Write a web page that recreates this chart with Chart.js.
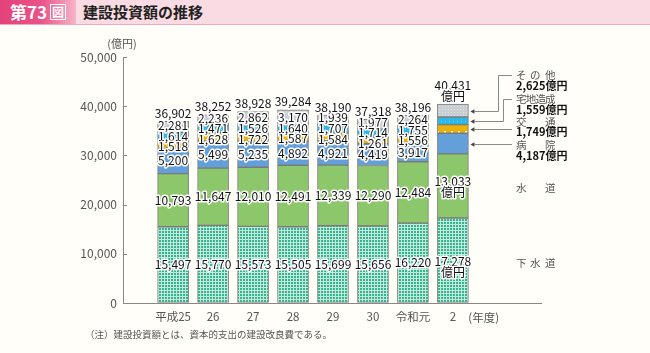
<!DOCTYPE html>
<html><head><meta charset="utf-8">
<script src="https://cdn.jsdelivr.net/npm/chart.js@4"></script>
<style>
html,body{margin:0;padding:0;background:#fffef8;width:650px;height:353px;overflow:hidden;font-family:"Noto Sans CJK JP",sans-serif;}
#wrap{position:relative;width:650px;height:353px;}
#c{position:absolute;left:0;top:0;}
#band{position:absolute;left:0;top:0;width:650px;height:24px;background:#fbdbe3;border-bottom:1px solid #f3a9c0;}
#num{position:absolute;left:0;top:0;width:76px;height:24px;background:linear-gradient(90deg,#e4417a 0%,#e95489 55%,#f6b6ca 100%);color:#fff;font-weight:bold;font-size:17px;line-height:24px;padding-left:10px;box-sizing:border-box;white-space:nowrap;}
#num span{display:inline-block;border:1.5px solid #fff;font-size:12px;line-height:14px;padding:0 1px;margin-left:3px;vertical-align:2px}
#ttl{position:absolute;left:83px;top:0;line-height:24px;font-size:15px;font-weight:bold;color:#222;}
</style></head>
<body>
<div id="wrap">
<canvas id="c" width="650" height="353" style="width:650px;height:353px"></canvas>
<div id="band"></div>
<div id="num">第73<span>図</span></div>
<div id="ttl">建設投資額の推移</div>
</div>
<script>
const years = ['平成25','26','27','28','29','30','令和元','2'];
const sewer = [15497,15770,15573,15505,15699,15656,16220,17278];
const water = [10793,11647,12010,12491,12339,12290,12484,13033];
const hospital = [5200,5499,5235,4892,4921,4419,3917,4187];
const transport = [1518,1628,1722,1587,1584,1261,1556,1749];
const housing = [1614,1471,1526,1640,1707,1714,1755,1559];
const other = [2281,2236,2862,3170,1939,1977,2264,2625];
const totals = [36902,38252,38928,39284,38190,37318,38196,40431];
const yTicks = [0,10000,20000,30000,40000,50000];
const seriesNames = ['下水道','水道','病院','交通','宅地造成','その他'];

const FONT = '"Noto Sans CJK JP", sans-serif';
const fmt = v => v.toLocaleString('en-US');
const canvas = document.getElementById('c');
const cctx = canvas.getContext('2d');

function pat(w,h,bg,draw){
  const c=document.createElement('canvas');c.width=w;c.height=h;
  const x=c.getContext('2d');x.fillStyle=bg;x.fillRect(0,0,w,h);draw(x);
  return cctx.createPattern(c,'repeat');
}
const pSewer = pat(3,3,'#c2eadd',x=>{x.fillStyle='#36b38e';x.fillRect(0,0,2,2);});
const pWater = '#8dc76b';
const pHosp = '#639fd9';
const pTrans = pat(7,8,'#e9b10a',x=>{x.fillStyle='#fff8e0';x.fillRect(3,3,2,2);});
const pHouse = pat(4,4,'#2db7e8',x=>{x.fillStyle='#7fd3f2';x.fillRect(1,1,1,1);});
const pOther = pat(3,3,'#c9ced2',x=>{x.fillStyle='#dfe3e5';x.fillRect(1,1,1,1);});
const fills = [pSewer,pWater,pHosp,pTrans,pHouse,pOther];
const series = [sewer,water,hospital,transport,housing,other];

const labelPlugin = {
  id:'labels',
  afterDatasetsDraw(chart){
    const ctx=chart.ctx; ctx.save();
    ctx.font='12px '+FONT; ctx.textAlign='center'; ctx.textBaseline='middle'; ctx.lineJoin='round';
    const draw=(t,x,y)=>{ctx.lineWidth=3;ctx.strokeStyle='#fff';ctx.strokeText(t,x,y);ctx.fillStyle='#111';ctx.fillText(t,x,y);};
    const n=years.length;
    for(let j=0;j<n;j++){
      const els = chart.data.datasets.map((d,i)=>chart.getDatasetMeta(i).data[j]);
      const mid = e=>(e.y+e.base)/2;
      const x = els[0].x;
      const last = j===n-1;
      if(last){
        draw(fmt(series[0][j]),x,mid(els[0])+1);
        draw('億円',x,mid(els[0])+12);
        draw(fmt(series[1][j]),x,mid(els[1])-4);
        draw('億円',x,mid(els[1])+7);
        const top=els[5].y;
        draw(fmt(totals[j]),x,top-19);
        draw('億円',x,top-8);
      } else {
        draw(fmt(series[0][j]),x,mid(els[0]));
        draw(fmt(series[1][j]),x,mid(els[1]));
        const idx=[5,4,3,2];
        const ys=idx.map(i=>mid(els[i]));
        for(let it=0;it<60;it++){
          for(let k=0;k<3;k++){
            const g=ys[k+1]-ys[k];
            if(g<10.8){const d=(10.8-g)/2;ys[k]-=d;ys[k+1]+=d;}
          }
        }
        idx.forEach((i,k)=>draw(fmt(series[i][j]),x,ys[k]));
        draw(fmt(totals[j]),x,els[5].y-8);
      }
    }
    ctx.restore();
  },
  afterDraw(chart){
    const ctx=chart.ctx; ctx.save();
    const ys=chart.scales.y, ca=chart.chartArea;
    ctx.strokeStyle='#888';ctx.lineWidth=1;
    yTicks.forEach(v=>{const p=Math.round(ys.getPixelForValue(v))+0.5;ctx.beginPath();ctx.moveTo(ca.left,p);ctx.lineTo(ca.left+4,p);ctx.stroke();});
    ctx.fillStyle='#555';ctx.font='11px '+FONT;ctx.textAlign='center';ctx.textBaseline='middle';
    ctx.fillText('(億円)',ca.left-1,44);
    ctx.font='11.5px '+FONT;
    ctx.fillText('(年度)',chart.scales.x.getPixelForValue(7.77),318);
    ctx.textAlign='left';ctx.font='9.5px '+FONT;
    ctx.fillText('（注）建設投資額とは、資本的支出の建設改良費である。',85,334);
    const j=years.length-1;
    const els = chart.data.datasets.map((d,i)=>chart.getDatasetMeta(i).data[j]);
    const mid = e=>(e.y+e.base)/2;
    const xr = els[0].x + els[0].width/2 + 2;
    ctx.strokeStyle='#8a8a8a';ctx.lineWidth=1;
    const arrow=(y)=>{ctx.beginPath();ctx.moveTo(xr,y);ctx.lineTo(xr+4,y-2.2);ctx.lineTo(xr+4,y+2.2);ctx.closePath();ctx.fillStyle='#444';ctx.fill();};
    const path=(pts)=>{ctx.beginPath();pts.forEach((p,i)=>i?ctx.lineTo(p[0],p[1]):ctx.moveTo(p[0],p[1]));ctx.stroke();};
    const y5=Math.round(mid(els[5]))+0.5, y4=Math.round(mid(els[4]))+0.5, y3=Math.round(mid(els[3]))+0.5, y2=Math.round(mid(els[2]))+0.5;
    path([[xr+4,y5],[498.5,y5],[498.5,75.5],[512,75.5]]);arrow(y5);
    path([[xr+4,y4],[503.5,y4],[503.5,99.5],[512,99.5]]);arrow(y4);
    path([[xr+4,y3],[512,y3]]);arrow(y3);
    path([[xr+4,y2],[512,y2]]);arrow(y2);
    const lx=516;
    const chars=(arr,y)=>{ctx.font='10.5px '+FONT;ctx.fillStyle='#555';ctx.textAlign='left';ctx.textBaseline='middle';arr.forEach(c=>ctx.fillText(c[0],lx+c[1],y));};
    const amt=(v,y)=>{ctx.font='bold 11px '+FONT;ctx.fillStyle='#111';ctx.textAlign='left';ctx.textBaseline='middle';ctx.fillText(fmt(v)+'億円',lx,y);};
    chars([['そ',0],['の',14],['他',29]],75); amt(other[j],86);
    chars([['宅',0],['地',9.7],['造',19.4],['成',29.1]],99); amt(housing[j],110);
    chars([['交',0],['通',29]],122); amt(transport[j],132);
    chars([['病',0],['院',29]],145); amt(hospital[j],156);
    chars([['水',0],['道',29]],188);
    chars([['下',0],['水',14],['道',29]],263);
    ctx.restore();
  }
};

new Chart(canvas,{
  type:'bar',
  data:{datasets:series.map((s,i)=>({
    label:seriesNames[i],
    data:s.map((v,k)=>({x:k,y:v})),
    backgroundColor:fills[i],
    borderColor:'#7a7a7a',borderWidth:1,borderSkipped:false,
    barThickness:31
  }))},
  options:{
    responsive:false,animation:false,devicePixelRatio:1,
    layout:{padding:{left:0,top:57,right:109,bottom:0}},
    plugins:{legend:{display:false},tooltip:{enabled:false}},
    scales:{
      x:{type:'linear',stacked:true,min:-0.6,max:8.55,
        afterFit(s){s.height=50;},
        afterBuildTicks(s){s.ticks=years.map((_,i)=>({value:i}));},
        grid:{display:true,drawOnChartArea:false,drawTicks:false},
        border:{display:true,color:'#888',width:1},
        ticks:{padding:7,color:'#555',font:{family:FONT,size:11.5},autoSkip:false,maxRotation:0,callback:(v)=>years[v]??''}},
      y:{stacked:true,min:0,max:50000,
        afterFit(s){s.width=123;},
        afterBuildTicks(s){s.ticks=yTicks.map(v=>({value:v}));},
        grid:{display:true,drawOnChartArea:false,drawTicks:false},
        border:{display:true,color:'#888',width:1},
        ticks:{padding:6,color:'#555',font:{family:FONT,size:12},callback:v=>fmt(v)}}
    }
  },
  plugins:[labelPlugin]
});
</script>
</body></html>
